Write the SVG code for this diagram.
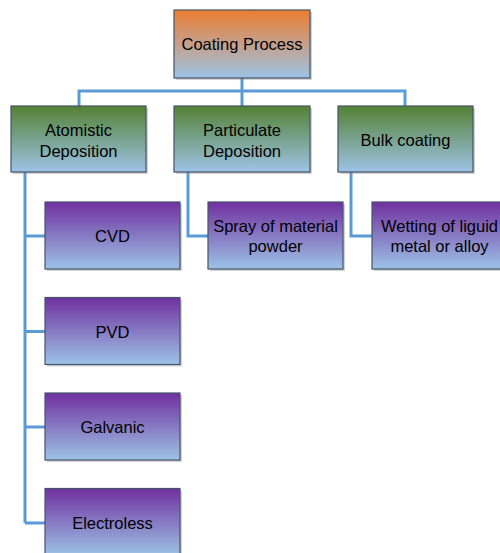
<svg xmlns="http://www.w3.org/2000/svg" width="500" height="553" viewBox="0 0 500 553">
<defs>
<linearGradient id="gOrange" x1="0" y1="0" x2="0" y2="1">
<stop offset="0" stop-color="#ED7D31"/><stop offset="1" stop-color="#9DC3E6"/>
</linearGradient>
<linearGradient id="gGreen" x1="0" y1="0" x2="0" y2="1">
<stop offset="0" stop-color="#548235"/><stop offset="1" stop-color="#9DC3E6"/>
</linearGradient>
<linearGradient id="gPurple" x1="0" y1="0" x2="0" y2="1">
<stop offset="0" stop-color="#7030A0"/><stop offset="1" stop-color="#9DC3E6"/>
</linearGradient>
</defs>
<style>
.box{stroke:#44546A;stroke-width:1.2}
.shadow{fill:#7f7f7f;opacity:0.35}
.lbl{font-family:"Liberation Sans",Arial,sans-serif;font-size:16.5px;fill:#000;text-anchor:middle}
.conn{fill:none;stroke:#5B9BD5;stroke-width:3}
</style>
<rect width="500" height="553" fill="#fff"/>
<g id="connectors">
<path class="conn" d="M242 78 V106 M79 106 V91 H405 V106"/>
<path class="conn" d="M25 172 V523 M25 236 H45 M25 331.5 H45 M25 427 H45 M25 523 H45"/>
<path class="conn" d="M188 172 V236 H208"/>
<path class="conn" d="M351 172 V236 H372"/>
</g>
<g id="coating-process">
<rect class="shadow" x="176" y="12" width="136" height="68"/>
<rect class="box" x="174" y="10" width="136" height="68" fill="url(#gOrange)"/>
<text class="lbl" x="242" y="50">Coating Process</text>
</g>
<g id="atomistic">
<rect class="shadow" x="13" y="108" width="135" height="66"/>
<rect class="box" x="11" y="106" width="135" height="66" fill="url(#gGreen)"/>
<text class="lbl" x="78.5" y="136">Atomistic</text>
<text class="lbl" x="78.5" y="156.5">Deposition</text>
</g>
<g id="particulate">
<rect class="shadow" x="176" y="108" width="136" height="66"/>
<rect class="box" x="174" y="106" width="136" height="66" fill="url(#gGreen)"/>
<text class="lbl" x="242" y="136">Particulate</text>
<text class="lbl" x="242" y="156.5">Deposition</text>
</g>
<g id="bulk">
<rect class="shadow" x="340" y="108" width="135" height="66"/>
<rect class="box" x="338" y="106" width="135" height="66" fill="url(#gGreen)"/>
<text class="lbl" x="405.5" y="145.5">Bulk coating</text>
</g>
<g id="cvd">
<rect class="shadow" x="47" y="204" width="135" height="67"/>
<rect class="box" x="45" y="202" width="135" height="67" fill="url(#gPurple)"/>
<text class="lbl" x="112.5" y="242">CVD</text>
</g>
<g id="pvd">
<rect class="shadow" x="47" y="299.5" width="135" height="67"/>
<rect class="box" x="45" y="297.5" width="135" height="67" fill="url(#gPurple)"/>
<text class="lbl" x="112.5" y="337.5">PVD</text>
</g>
<g id="galvanic">
<rect class="shadow" x="47" y="395" width="135" height="67"/>
<rect class="box" x="45" y="393" width="135" height="67" fill="url(#gPurple)"/>
<text class="lbl" x="112.5" y="433">Galvanic</text>
</g>
<g id="electroless">
<rect class="shadow" x="47" y="490.5" width="135" height="67"/>
<rect class="box" x="45" y="488.5" width="135" height="67" fill="url(#gPurple)"/>
<text class="lbl" x="112.5" y="528.5">Electroless</text>
</g>
<g id="spray">
<rect class="shadow" x="210" y="204" width="135" height="67"/>
<rect class="box" x="208" y="202" width="135" height="67" fill="url(#gPurple)"/>
<text class="lbl" x="275.5" y="232">Spray of material</text>
<text class="lbl" x="275.5" y="252">powder</text>
</g>
<g id="wetting">
<rect class="shadow" x="374" y="204" width="135" height="67"/>
<rect class="box" x="372" y="202" width="135" height="67" fill="url(#gPurple)"/>
<text class="lbl" x="439.5" y="232">Wetting of liguid</text>
<text class="lbl" x="439.5" y="252">metal or alloy</text>
</g>
</svg>
